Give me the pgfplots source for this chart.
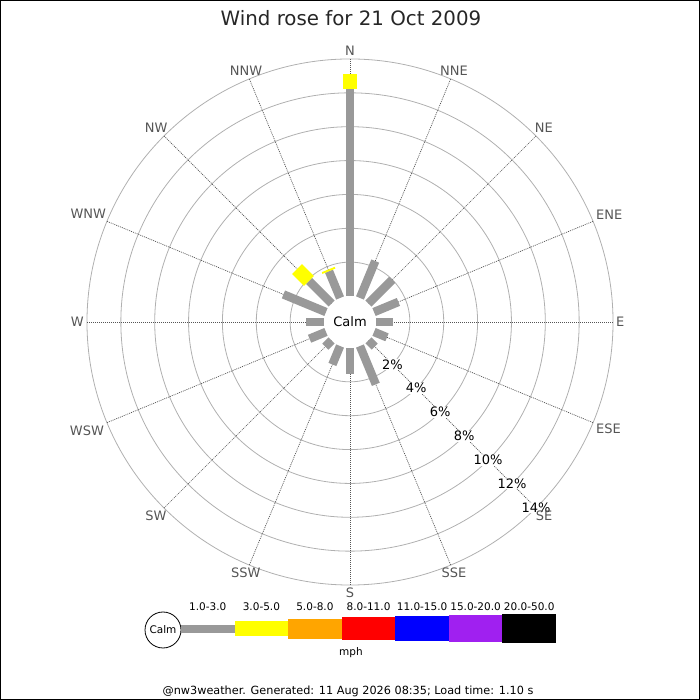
\documentclass[border=0pt]{standalone}
\usepackage{pgfplots}
\pgfplotsset{compat=1.18}
\usepackage{pgfplotstable}
\usepackage{fontspec}
\setmainfont{DejaVu Sans}

\definecolor{barGray}{HTML}{999999}
\definecolor{ringGray}{HTML}{B0B0B0}
\definecolor{spokeGray}{HTML}{555555}
\definecolor{labGray}{HTML}{555555}
\definecolor{cYellow}{HTML}{FFFF00}
\definecolor{cOrange}{HTML}{FFA500}
\definecolor{cRed}{HTML}{FF0000}
\definecolor{cBlue}{HTML}{0000FF}
\definecolor{cPurple}{HTML}{A020F0}

% dir = compass bearing (deg), lo/hi = cumulative percentage
\pgfplotstableread{
dir lo hi
0 0 12.23
22.5 0 2.36
45 0 2.00
67.5 0 1.56
90 0 0.99
112.5 0 0.83
135 0 0.53
157.5 0 2.45
180 0 1.54
202.5 0 1.18
225 0 0.53
247.5 0 1.05
270 0 1.06
292.5 0 2.72
315 0 1.89
337.5 0 1.71
}\grayclass

\pgfplotstableread{
dir lo hi
0 12.23 13.11
315 1.89 2.89
337.5 1.71 1.82
}\yellowclass

\pgfplotsset{
  rosebar/.style={mark=none, line cap=butt,
    quiver={u={16.93*(\thisrow{hi}-\thisrow{lo})*sin(\thisrow{dir})},
            v={16.93*(\thisrow{hi}-\thisrow{lo})*cos(\thisrow{dir})}}},
}

\begin{document}
\begin{tikzpicture}
\begin{axis}[
  x=1pt, y=1pt,
  xmin=-350, xmax=350, ymin=-378, ymax=322,
  hide axis, clip=false, scale only axis,
]
% rings
\pgfplotsinvokeforeach{59.86,93.72,127.58,161.44,195.30,229.16,263.02}{
  \draw[ringGray, line width=0.8pt] (axis cs:0,0) circle[radius=#1];
}
% spokes
\pgfplotsinvokeforeach{0,22.5,45,67.5,90,112.5,135,157.5,180,202.5,225,247.5,270,292.5,315,337.5}{
  \draw[spokeGray, line width=0.7pt, dash pattern=on 1pt off 1pt]
    (axis cs:0,0) -- (axis cs:{263*sin(#1)},{263*cos(#1)});
}
% calm circle
\fill[white] (axis cs:0,0) circle[radius=26];
\node[font=\fontsize{13}{15}\selectfont] at (axis cs:0,0) {Calm};

% bars
\addplot[draw=barGray, line width=8.5pt, rosebar] table[
  x expr={(26+16.93*\thisrow{lo})*sin(\thisrow{dir})},
  y expr={(26+16.93*\thisrow{lo})*cos(\thisrow{dir})}] {\grayclass};
\addplot[draw=cYellow, line width=14pt, rosebar] table[
  x expr={(26+16.93*\thisrow{lo})*sin(\thisrow{dir})},
  y expr={(26+16.93*\thisrow{lo})*cos(\thisrow{dir})}] {\yellowclass};

% percent labels along SE
\pgfplotsinvokeforeach{2,4,6,8,10,12,14}{
  \node[font=\fontsize{13}{15}\selectfont, fill=white, inner sep=0.5pt]
    at (axis cs:{(26+16.93*#1)*0.70711},{-(26+16.93*#1)*0.70711}) {#1\%};
}

% direction labels
\begin{scope}[every node/.style={font=\fontsize{13}{15}\selectfont, text=labGray, inner sep=3pt}]
\node[anchor=270]   at (axis cs:0,263) {N};
\node[anchor=247.5] at (axis cs:100.65,243.0) {NNE};
\node[anchor=225]   at (axis cs:185.98,185.98) {NE};
\node[anchor=202.5] at (axis cs:243.0,100.65) {ENE};
\node[anchor=180]   at (axis cs:263,0) {E};
\node[anchor=157.5] at (axis cs:243.0,-100.65) {ESE};
\node[anchor=135]   at (axis cs:185.98,-185.98) {SE};
\node[anchor=112.5] at (axis cs:100.65,-243.0) {SSE};
\node[anchor=90]    at (axis cs:0,-263) {S};
\node[anchor=67.5]  at (axis cs:-100.65,-243.0) {SSW};
\node[anchor=45]    at (axis cs:-185.98,-185.98) {SW};
\node[anchor=22.5]  at (axis cs:-243.0,-100.65) {WSW};
\node[anchor=0]     at (axis cs:-263,0) {W};
\node[anchor=337.5] at (axis cs:-243.0,100.65) {WNW};
\node[anchor=315]   at (axis cs:-185.98,185.98) {NW};
\node[anchor=292.5] at (axis cs:-100.65,243.0) {NNW};
\end{scope}

% title
\node[font=\fontsize{19.8}{22}\selectfont, text=black!85] at (axis cs:1,304) {Wind rose for 21 Oct 2009};

% legend
\draw[black, line width=0.8pt, fill=white] (axis cs:-187,-308) circle[radius=18];
\node[font=\fontsize{10.5}{12}\selectfont] at (axis cs:-187,-308) {Calm};
\fill[barGray] (axis cs:-169,-311) rectangle (axis cs:-115.4,-303);
\fill[cYellow] (axis cs:-115.4,-314.5) rectangle (axis cs:-61.9,-299.5);
\fill[cOrange] (axis cs:-61.9,-317) rectangle (axis cs:-8.3,-297);
\fill[cRed]    (axis cs:-8.3,-318.5) rectangle (axis cs:45.3,-295.5);
\fill[cBlue]   (axis cs:45.3,-319.5) rectangle (axis cs:98.9,-294.5);
\fill[cPurple] (axis cs:98.9,-320.5) rectangle (axis cs:152.4,-293.5);
\fill[black]   (axis cs:152.4,-321.5) rectangle (axis cs:206,-292.5);
\begin{scope}[every node/.style={font=\fontsize{10.5}{12}\selectfont}]
\node at (axis cs:-142.2,-285) {1.0-3.0};
\node at (axis cs:-88.6,-285) {3.0-5.0};
\node at (axis cs:-35.1,-285) {5.0-8.0};
\node at (axis cs:18.5,-285) {8.0-11.0};
\node at (axis cs:72.1,-285) {11.0-15.0};
\node at (axis cs:125.6,-285) {15.0-20.0};
\node at (axis cs:179.2,-285) {20.0-50.0};
\node at (axis cs:1,-331) {mph};
\end{scope}

% footer
\node[font=\fontsize{11.25}{13}\selectfont] at (axis cs:-2,-369) {@nw3weather. Generated: 11 Aug 2026 08:35; Load time: 1.10 s};

% frame
\draw[black, line width=1.2pt] (axis cs:-349.4,-377.4) rectangle (axis cs:349.4,321.4);
\end{axis}
\end{tikzpicture}
\end{document}
